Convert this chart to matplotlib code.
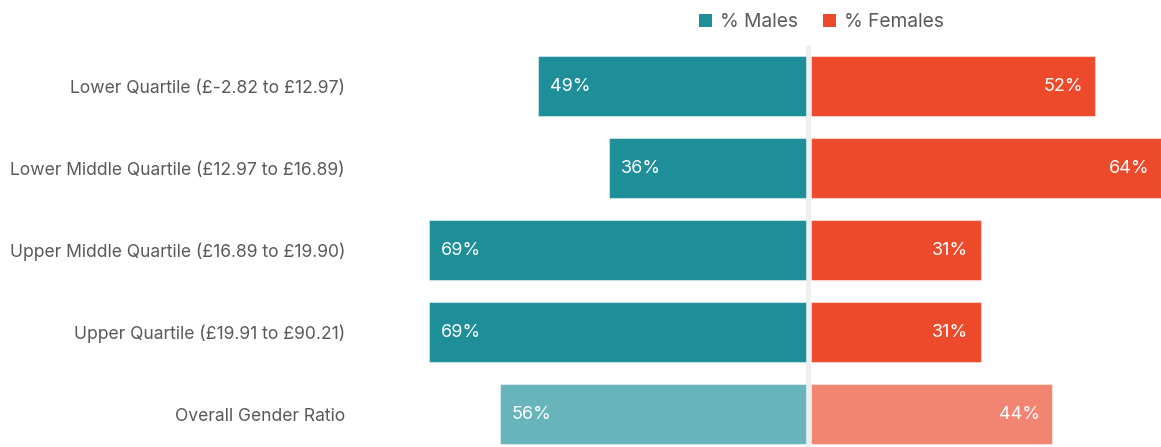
import matplotlib
matplotlib.use("Agg")
import matplotlib.pyplot as plt
from matplotlib.patches import Patch

categories = [
    "Lower Quartile (£-2.82 to £12.97)",
    "Lower Middle Quartile (£12.97 to £16.89)",
    "Upper Middle Quartile (£16.89 to £19.90)",
    "Upper Quartile (£19.91 to £90.21)",
    "Overall Gender Ratio",
]
males = [49, 36, 69, 69, 56]
females = [52, 64, 31, 31, 44]
series_names = ["% Males", "% Females"]

male_colors = ["#1E8F99"] * 4 + ["#68B4BB"]
female_colors = ["#EC4A2B"] * 4 + ["#F28472"]
text_color = "#595959"

plt.rcParams["font.family"] = ["Inter", "DejaVu Sans"]

W, H, DPI = 1161, 447, 100
fig = plt.figure(figsize=(W / DPI, H / DPI), dpi=DPI)
ax = fig.add_axes([360 / W, 0, (W - 360) / W, 1])

gap = 0.45
ys = list(range(len(categories)))
edge = (1, 1, 1, 0.45)

ax.barh(ys, [-m for m in males], left=-gap, height=0.732,
        color=male_colors, edgecolor=edge, linewidth=0.8)
ax.barh(ys, females, left=gap, height=0.732,
        color=female_colors, edgecolor=edge, linewidth=0.8)

# centre divider
ax.plot([0, 0], [-0.5, 4.6], color="#EFEFEF", lw=3.7, solid_capstyle="butt", zorder=0)

for y, m, f in zip(ys, males, females):
    ax.text(-gap - m + 2.2, y, f"{m}%", color="white", fontsize=13,
            va="center", ha="left")
    ax.text(gap + f - 2.2, y, f"{f}%", color="white", fontsize=13,
            va="center", ha="right")

ax.set_xlim(-82.0, 64.45)
ax.set_ylim(4.402, -1.049)
ax.set_yticks(ys)
ax.set_yticklabels(categories, fontsize=12.6, color=text_color)
ax.tick_params(axis="y", length=0, pad=10.8)
ax.set_xticks([])
for s in ax.spines.values():
    s.set_visible(False)

handles = [Patch(facecolor=male_colors[0]), Patch(facecolor=female_colors[0])]
leg = fig.legend(handles, series_names, loc="center", bbox_to_anchor=(821 / W, 1 - 22 / H),
                 ncol=2, frameon=False, fontsize=13.8, handlelength=0.7, handleheight=0.7,
                 handletextpad=0.4, columnspacing=1.3, labelcolor=text_color)

fig.savefig("out.png", dpi=DPI)
